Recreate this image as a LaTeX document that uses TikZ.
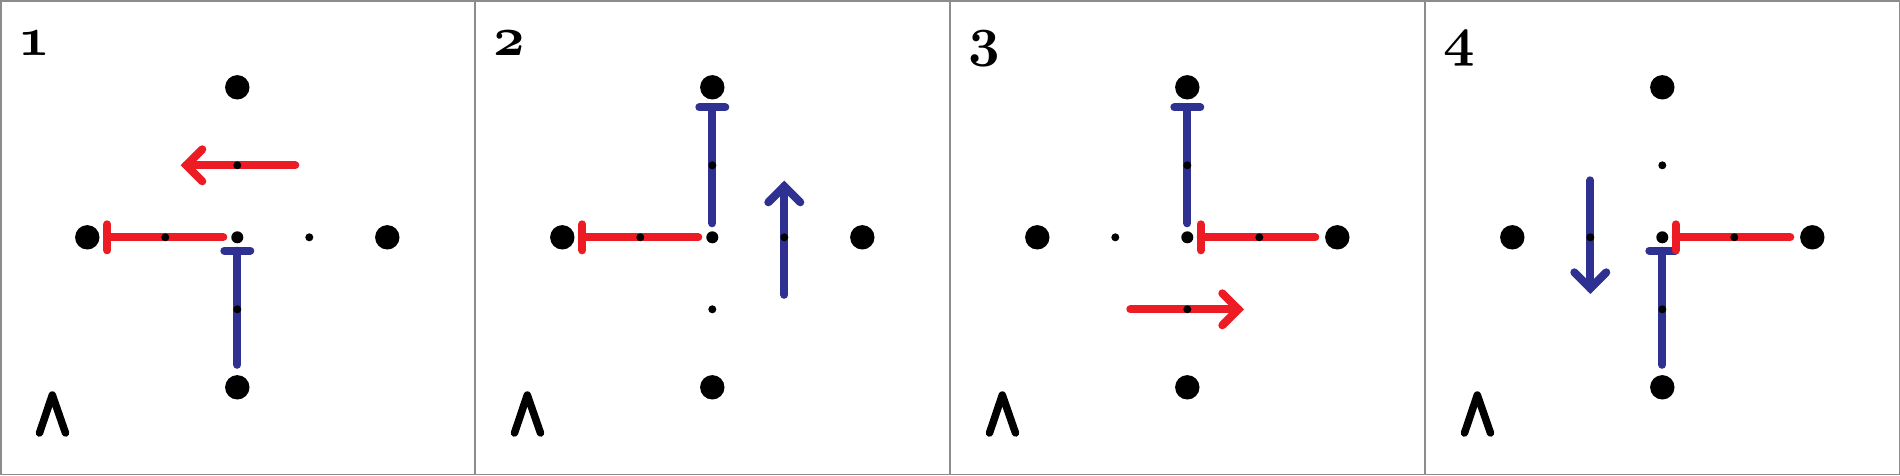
\documentclass[tikz,border=0pt]{standalone}
\definecolor{myred}{HTML}{ED1C24}
\definecolor{myblue}{HTML}{2E3192}
\definecolor{framegray}{HTML}{8C8C8C}
\font\panelnum=cmmib10 at 55pt
\tikzset{
  bigdot/.style={circle,fill=black,inner sep=0pt,minimum size=24.4pt},
  cdot/.style={circle,fill=black,inner sep=0pt,minimum size=12pt},
  sdot/.style={circle,fill=black,inner sep=0pt,minimum size=8pt},
  redln/.style={draw=myred,line width=8pt,line cap=round},
  blueln/.style={draw=myblue,line width=8pt,line cap=round},
  headln/.style={line width=8pt,line cap=round,line join=miter},
  framestyle/.style={draw=framegray,line width=1.5pt},
  wedgeln/.style={draw=black,line width=7.5pt,line cap=round,line join=round},
  lab/.style={anchor=base west,inner sep=0pt,font=\panelnum}
}
\newcommand{\gridnodes}{%
  \node[bigdot] (T) at (0,-150) {};
  \node[bigdot] (B) at (0,150) {};
  \node[bigdot] (L) at (-150,0) {};
  \node[bigdot] (R) at (150,0) {};
  \node[cdot] (C) at (0,0) {};
}
\begin{document}
\begin{tikzpicture}[x=1pt,y=-1pt]
\useasboundingbox (0,0) rectangle (1900,475);
\fill[white] (0,0) rectangle (1900,475);

% ---------- panel 1 ----------
\begin{scope}[shift={(237.3,237.3)}]
  \draw[redln] (-14,0) -- (-130,0);
  \draw[redln] (-130,-13) -- (-130,13);
  \draw[blueln] (0,127.5) -- (0,13.4);
  \draw[blueln] (-13,13.4) -- (13,13.4);
  \draw[redln] (58,-72) -- (-51,-72);
  \draw[redln,headln] (-35,-88) -- (-51,-72) -- (-35,-56);
  \gridnodes
  \node[sdot] (m1) at (-72,0) {};
  \node[sdot] (m2) at (0,72) {};
  \node[sdot] (m3) at (0,-72) {};
  \node[sdot] (g) at (72,0) {};
\end{scope}

% ---------- panel 2 ----------
\begin{scope}[shift={(712.3,237.3)}]
  \draw[redln] (-14,0) -- (-130,0);
  \draw[redln] (-130,-13) -- (-130,13);
  \draw[blueln] (0,-14) -- (0,-130);
  \draw[blueln] (-13,-130) -- (13,-130);
  \draw[blueln] (72,57.5) -- (72,-51);
  \draw[blueln,headln] (56,-35) -- (72,-51) -- (88,-35);
  \gridnodes
  \node[sdot] (m1) at (-72,0) {};
  \node[sdot] (m2) at (0,-72) {};
  \node[sdot] (m3) at (72,0) {};
  \node[sdot] (g) at (0,72) {};
\end{scope}

% ---------- panel 3 ----------
\begin{scope}[shift={(1187.3,237.3)}]
  \draw[blueln] (0,-14) -- (0,-130);
  \draw[blueln] (-13,-130) -- (13,-130);
  \draw[redln] (128,0) -- (13.4,0);
  \draw[redln] (13.4,-13) -- (13.4,13);
  \draw[redln] (-57,72) -- (51,72);
  \draw[redln,headln] (35,56) -- (51,72) -- (35,88);
  \gridnodes
  \node[sdot] (m1) at (72,0) {};
  \node[sdot] (m2) at (0,-72) {};
  \node[sdot] (m3) at (0,72) {};
  \node[sdot] (g) at (-72,0) {};
\end{scope}

% ---------- panel 4 ----------
\begin{scope}[shift={(1662.3,237.3)}]
  \draw[blueln] (0,127.5) -- (0,13.4);
  \draw[blueln] (-13,13.4) -- (13,13.4);
  \draw[redln] (128,0) -- (13.4,0);
  \draw[redln] (13.4,-13) -- (13.4,13);
  \draw[blueln] (-72,-57) -- (-72,51);
  \draw[blueln,headln] (-88,35) -- (-72,51) -- (-56,35);
  \gridnodes
  \node[sdot] (m1) at (72,0) {};
  \node[sdot] (m2) at (0,72) {};
  \node[sdot] (m3) at (-72,0) {};
  \node[sdot] (g) at (0,-72) {};
\end{scope}

% ---------- labels and wedges ----------
\foreach \k/\n in {0/1,1/2,2/3,3/4}{
  \node[lab] (lab\n) at (475*\k+18,55.7) {\n};
  \draw[wedgeln] (475*\k+39.5,433) -- (475*\k+52.3,395) -- (475*\k+65.5,433);
}

% ---------- frames ----------
\draw[framestyle] (0.75,0.75) rectangle (1899.25,474.25);
\foreach \x in {475,950,1425}{
  \draw[framestyle] (\x,0) -- (\x,475);
}
\end{tikzpicture}
\end{document}
